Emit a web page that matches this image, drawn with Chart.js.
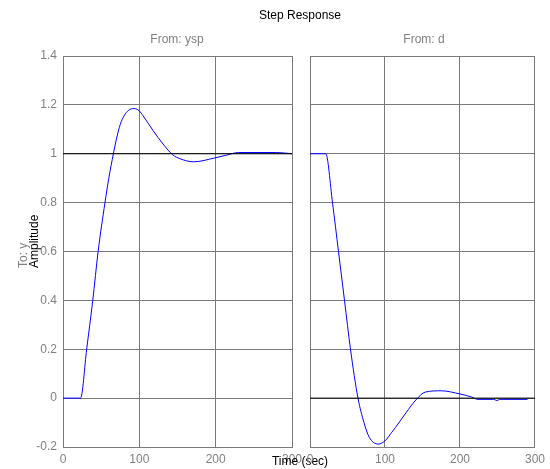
<!DOCTYPE html>
<html>
<head>
<meta charset="utf-8">
<script src="https://cdn.jsdelivr.net/npm/chart.js@4"></script>
<style>
  body { margin: 0; background: #fff; }
  canvas { position: absolute; left: 0; top: 0; }
</style>
</head>
<body>
<canvas id="left-chart" width="550" height="469"></canvas>
<canvas id="right-chart" width="550" height="469"></canvas>
<script>
// step response from ysp to y
const tYsp = [0, 23, 31, 39, 46, 55, 60, 66, 70, 75, 80, 86, 93, 100, 105, 118, 131, 144, 153, 171, 199, 215, 230, 280, 300];
const yYsp = [0, 0, 0.2, 0.4, 0.6, 0.8, 0.9, 1.0, 1.06, 1.12, 1.155, 1.178, 1.185, 1.175, 1.155, 1.095, 1.04, 0.995, 0.98, 0.967, 0.983, 0.995, 1.005, 1.005, 1.0];

// step response from d to y
const tD = [0, 21, 30, 38, 46, 54, 64, 72, 79, 91, 100, 109, 114, 128, 141, 154, 175, 200, 215, 224, 245, 249, 253, 290];
const yD = [1, 1, 0.8, 0.6, 0.4, 0.2, 0, -0.1, -0.16, -0.188, -0.175, -0.14, -0.12, -0.06, -0.008, 0.025, 0.03, 0.017, 0.005, -0.005, -0.005, -0.01, -0.005, -0.005];

// steady state lines
const finalT = [0, 300];
const finalYsp = [1, 1];
const finalD = [0, 0];

const xTicks = [0, 100, 200, 300];
const yTicks = [-0.2, 0, 0.2, 0.4, 0.6, 0.8, 1, 1.2, 1.4];

const GRID = "#7a7a7a";
const TICK = "#808080";
const FONT = "'Liberation Sans', Arial, sans-serif";

function toPoints(xs, ys) {
    return xs.map((x, i) => ({ x: x, y: ys[i] }));
}

function makeChart(id, resp, final, opts) {
    const ctx = document.getElementById(id).getContext("2d");
    return new Chart(ctx, {
        type: "scatter",
        data: {
            datasets: [
                {
                    data: final,
                    showLine: true,
                    borderColor: "#000000",
                    borderWidth: 1,
                    pointRadius: 0
                },
                {
                    data: resp,
                    showLine: true,
                    borderColor: "#0000ff",
                    borderWidth: 1,
                    pointRadius: 0,
                    cubicInterpolationMode: "monotone"
                }
            ]
        },
        options: {
            responsive: false,
            animation: false,
            layout: { padding: { left: 0, right: opts.padRight, top: 56, bottom: 0 } },
            scales: {
                x: {
                    type: "linear",
                    min: 0,
                    max: 300,
                    afterBuildTicks: s => { s.ticks = xTicks.map(v => ({ value: v })); },
                    afterFit: s => { s.height = 22; },
                    grid: { color: GRID, tickLength: 0 },
                    border: { color: GRID },
                    ticks: {
                        color: TICK,
                        padding: 5,
                        maxRotation: 0,
                        font: { family: FONT, size: 12 }
                    }
                },
                y: {
                    min: -0.2,
                    max: 1.4,
                    afterBuildTicks: s => { s.ticks = yTicks.map(v => ({ value: v })); },
                    afterFit: s => { s.width = opts.yWidth; },
                    grid: { color: GRID, tickLength: 0 },
                    border: { color: GRID },
                    ticks: {
                        display: opts.showY,
                        color: TICK,
                        padding: 6,
                        font: { family: FONT, size: 12 },
                        callback: v => String(Number(v.toFixed(1)))
                    }
                }
            },
            plugins: {
                legend: { display: false },
                tooltip: { enabled: false }
            }
        },
        plugins: opts.plugins || []
    });
}

const labels = {
    id: "labels",
    afterDraw(chart) {
        const c = chart.ctx;
        c.save();
        c.textBaseline = "middle";
        c.textAlign = "center";
        c.font = "12px " + FONT;
        c.fillStyle = "#000";
        c.fillText("Step Response", 300, 16);
        c.fillText("Time (sec)", 300, 462);
        c.fillStyle = "#808080";
        c.fillText("From: ysp", 177, 40);
        c.fillText("From: d", 424, 40);

        c.translate(35, 268);
        c.rotate(-Math.PI / 2);
        c.textAlign = "left";
        c.fillStyle = "#000";
        c.fillText("Amplitude", 0, 0);
        c.fillStyle = "#808080";
        c.fillText("To: y", 0, -11);
        c.restore();
    }
};

makeChart("left-chart", toPoints(tYsp, yYsp), toPoints(finalT, finalYsp),
    { padRight: 258, yWidth: 63, showY: true, plugins: [labels] });
makeChart("right-chart", toPoints(tD, yD), toPoints(finalT, finalD),
    { padRight: 12, yWidth: 310, showY: false });
</script>
</body>
</html>
